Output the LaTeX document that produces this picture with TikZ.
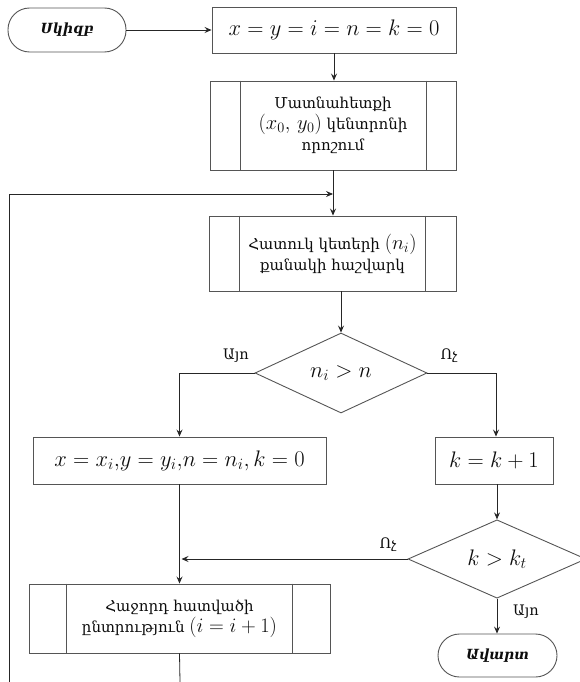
\RequirePackage{fix-cm}
\documentclass[tikz,border=0pt]{standalone}
\usepackage{fontspec}
\setmainfont{DejaVu Serif}
\usetikzlibrary{shapes.geometric,arrows.meta}
\definecolor{boxc}{HTML}{555555}
\definecolor{linec}{HTML}{262626}
\definecolor{txtc}{HTML}{0D0D0D}
\newcommand{\largemath}[1]{{\fontsize{22.5}{24}\selectfont$#1$}}
\newcommand{\inlinemath}[1]{{\fontsize{20.5}{20}\selectfont$#1$}}
\begin{document}
\begin{tikzpicture}[x=1pt,y=-1pt,
  base/.style={draw=boxc,line width=0.9pt,inner sep=0pt,align=center,text=txtc},
  term/.style={base,rectangle,rounded corners=21.5pt,font=\fontsize{14}{16}\selectfont\bfseries\itshape},
  proc/.style={base,rectangle,font=\fontsize{15}{22}\selectfont},
  decision/.style={base,diamond,font=\fontsize{14}{16}\selectfont},
  conn/.style={draw=linec,line width=0.8pt,-{Stealth[length=7pt,width=6pt,inset=2.5pt]}},
  plain/.style={draw=linec,line width=0.8pt},
  lbl/.style={inner sep=0pt,text=txtc,font=\fontsize{14.5}{16}\selectfont}]
\useasboundingbox (0,0) rectangle (580,682);
% nodes
\node[term,minimum width=118pt,minimum height=44pt] (start) at (67,30) {Սկիզբ};
\node[proc,minimum width=244pt,minimum height=46pt] (b1) at (334,30) {\largemath{x=y=i=n=k=0}};
\node[proc,minimum width=246pt,minimum height=89pt] (b2) at (333,125.5) {Մատնահետքի\\[-1pt]\inlinemath{(x_0,\,y_0)} կենտրոնի\\[-1pt]որոշում};
\node[proc,minimum width=247pt,minimum height=75pt] (b3) at (332.5,253.5) {Հատուկ կետերի \inlinemath{(n_i)}\\[-1pt]քանակի հաշվարկ};
\node[decision,minimum width=172pt,minimum height=80pt] (d1) at (341,373) {\largemath{n_i>n}};
\node[proc,minimum width=293pt,minimum height=47pt] (b4) at (179.5,460.5) {\largemath{x=x_i{,}y=y_i{,}n=n_i{,}\,k=0}};
\node[proc,minimum width=118pt,minimum height=47pt] (b5) at (494,460.5) {\largemath{k=k+1}};
\node[decision,minimum width=178pt,minimum height=78pt] (d2) at (497,559) {\largemath{k>k_t}};
\node[proc,minimum width=301pt,minimum height=69pt] (b6) at (179.5,618.5) {Հաջորդ հատվածի\\[-1pt]ընտրություն \inlinemath{(i=i+1)}};
\node[term,minimum width=119pt,minimum height=43pt] (end) at (497.5,655.5) {Ավարտ};
% predefined-process side bars
\foreach \n/\l/\r in {b2/31/30,b3/31/31,b6/38/38}{
  \draw[boxc,line width=0.9pt] ([xshift=\l pt]\n.north west) -- ([xshift=\l pt]\n.south west);
  \draw[boxc,line width=0.9pt] ([xshift=-\r pt]\n.north east) -- ([xshift=-\r pt]\n.south east);
}
% labels
\node[lbl] (yes1) at (236,356) {Այո};
\node[lbl] (no1) at (449,356) {Ոչ};
\node[lbl] (no2) at (388,545) {Ոչ};
\node[lbl] (yes2) at (526,612) {Այո};
% helper coordinates
\coordinate (loopbot) at (9,682);
\coordinate (loopcorner) at (9,194);
\coordinate (b6bot) at (180,682);
% connectors
\draw[conn] (start.east) -- (b1.west);
\draw[conn] (b1.south) -- (b1.south |- b2.north);
\draw[conn] (b2.south) -- (b2.south |- b3.north);
\draw[conn] (loopbot) -- (loopcorner) -- (b2.south |- loopcorner);
\draw[conn] (d1.north |- b3.south) -- (d1.north);
\draw[conn] (d1.west) -| (b4.north);
\draw[conn] (d1.east) -| ([xshift=2pt]b5.north);
\draw[conn] (d2.north |- b5.south) -- (d2.north);
\draw[conn] (b4.south) -- (b4.south |- b6.north);
\draw[conn] (d2.west) -- ([xshift=2pt]b4.south |- d2.west);
\draw[conn] (d2.south) -- (d2.south |- end.north);
\draw[plain] (b6.south) -- (b6bot);
\end{tikzpicture}
\end{document}
